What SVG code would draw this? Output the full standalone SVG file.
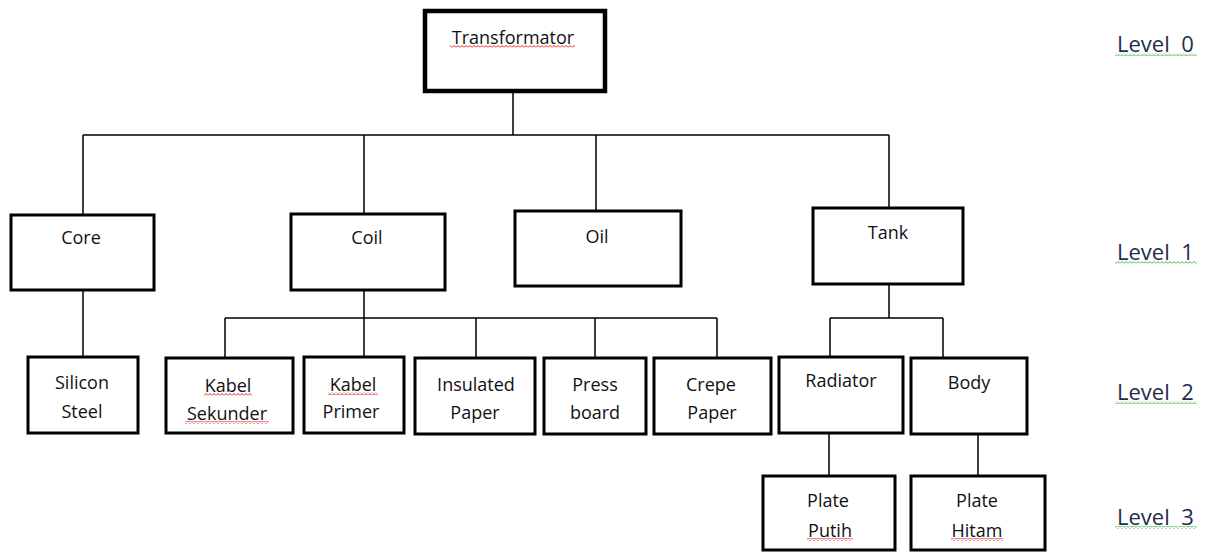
<svg xmlns="http://www.w3.org/2000/svg" width="1205" height="552" viewBox="0 0 1205 552">
<style>
.box{fill:#fff;stroke:#000;stroke-width:3}
.top{fill:#fff;stroke:#000;stroke-width:4.5}
.t{font-family:"Open Sans","Liberation Sans",sans-serif;font-size:18px;fill:#111;text-anchor:middle}
.lv{font-family:"Open Sans","Liberation Sans",sans-serif;font-size:22px;fill:#1f2d4d}
.con{fill:none;stroke:#000;stroke-width:1.5}
</style>
<defs>
<pattern id="redwave" width="4" height="3" patternUnits="userSpaceOnUse"><path d="M0,2.5 L2,0.5 L4,2.5" fill="none" stroke="#e02020" stroke-width="1"/></pattern>
<pattern id="greenwave" width="4" height="3" patternUnits="userSpaceOnUse"><path d="M0,2.5 L2,0.5 L4,2.5" fill="none" stroke="#3cb43c" stroke-width="1"/></pattern>
</defs>
<rect width="1205" height="552" fill="#fff"/>
<g id="connectors">
<path class="con" d="M513,92 V135 M83,135 H889 M83,135 V214 M364,135 V213 M596,135 V210 M889,135 V207"/>
<path class="con" d="M83,290 V356"/>
<path class="con" d="M364,290 V318 M225,318 H717 M225,318 V357 M364,318 V356 M476,318 V357 M595,318 V357 M717,318 V357"/>
<path class="con" d="M889,284 V318 M830,318 H943 M830,318 V356 M943,318 V357"/>
<path class="con" d="M829,433 V475 M978,434 V475"/>
</g>
<g id="n-transformator"><rect class="top" x="425" y="11" width="180" height="80"/><text class="t" x="513" y="44">Transformator</text></g>
<g id="n-core"><rect class="box" x="11" y="215" width="143" height="75"/><text class="t" x="81" y="244">Core</text></g>
<g id="n-coil"><rect class="box" x="291" y="214" width="154" height="76"/><text class="t" x="367" y="244">Coil</text></g>
<g id="n-oil"><rect class="box" x="515" y="211" width="166" height="75"/><text class="t" x="597" y="243">Oil</text></g>
<g id="n-tank"><rect class="box" x="813" y="208" width="150" height="76"/><text class="t" x="888" y="239">Tank</text></g>
<g id="n-silicon"><rect class="box" x="28" y="357" width="110" height="76"/><text class="t" x="82" y="389">Silicon</text><text class="t" x="82" y="418">Steel</text></g>
<g id="n-sekunder"><rect class="box" x="166" y="358" width="127" height="75"/><text class="t" x="228" y="392">Kabel</text><text class="t" x="227" y="420">Sekunder</text></g>
<g id="n-primer"><rect class="box" x="304" y="357" width="100" height="76"/><text class="t" x="353" y="391">Kabel</text><text class="t" x="351" y="418">Primer</text></g>
<g id="n-insulated"><rect class="box" x="415" y="358" width="120" height="76"/><text class="t" x="476" y="391">Insulated</text><text class="t" x="475" y="419">Paper</text></g>
<g id="n-press"><rect class="box" x="544" y="358" width="102" height="76"/><text class="t" x="595" y="391">Press</text><text class="t" x="595" y="419">board</text></g>
<g id="n-crepe"><rect class="box" x="654" y="358" width="117" height="76"/><text class="t" x="711" y="391">Crepe</text><text class="t" x="712" y="419">Paper</text></g>
<g id="n-radiator"><rect class="box" x="779" y="357" width="124" height="76"/><text class="t" x="841" y="387">Radiator</text></g>
<g id="n-body"><rect class="box" x="911" y="358" width="116" height="76"/><text class="t" x="969" y="389">Body</text></g>
<g id="n-putih"><rect class="box" x="763" y="476" width="132" height="74"/><text class="t" x="828" y="507">Plate</text><text class="t" x="830" y="537">Putih</text></g>
<g id="n-hitam"><rect class="box" x="911" y="476" width="134" height="74"/><text class="t" x="977" y="507">Plate</text><text class="t" x="977" y="537">Hitam</text></g>
<g id="levels">
<text class="lv" x="1117" y="52" xml:space="preserve">Level  0</text>
<text class="lv" x="1117" y="260" xml:space="preserve">Level  1</text>
<text class="lv" x="1117" y="400" xml:space="preserve">Level  2</text>
<text class="lv" x="1117" y="525" xml:space="preserve">Level  3</text>
</g>
<g id="spellcheck">
<rect x="450" y="45" width="125" height="3" fill="url(#redwave)"/>
<rect x="204" y="393" width="48" height="3" fill="url(#redwave)"/>
<rect x="185" y="421" width="84" height="3" fill="url(#redwave)"/>
<rect x="328" y="392" width="50" height="3" fill="url(#redwave)"/>
<rect x="807" y="538" width="46" height="3" fill="url(#redwave)"/>
<rect x="951" y="538" width="52" height="3" fill="url(#redwave)"/>
<rect x="1115" y="53" width="82" height="3" fill="url(#greenwave)"/>
<rect x="1115" y="261" width="82" height="3" fill="url(#greenwave)"/>
<rect x="1115" y="401" width="82" height="3" fill="url(#greenwave)"/>
<rect x="1115" y="526" width="82" height="3" fill="url(#greenwave)"/>
</g>
</svg>
